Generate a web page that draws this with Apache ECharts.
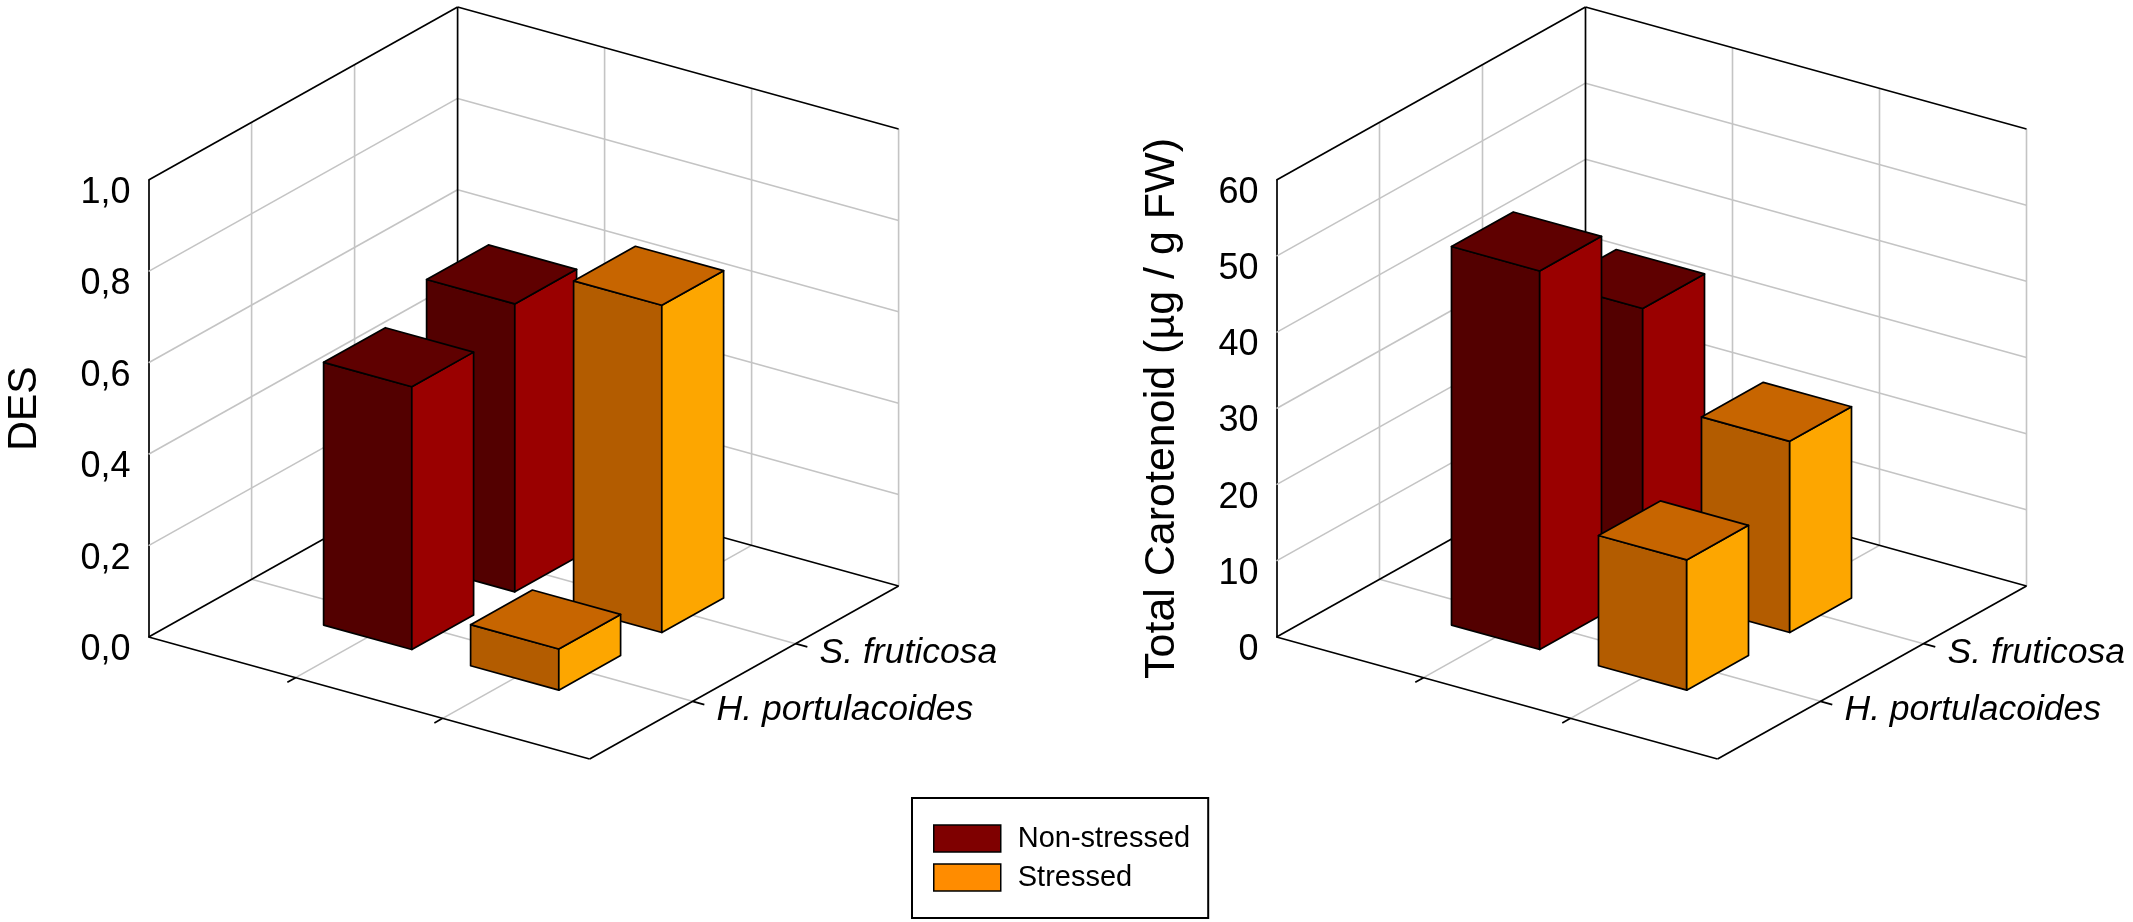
<!DOCTYPE html>
<html>
<head>
<meta charset="utf-8">
<style>html,body{margin:0;padding:0;background:#fff}#c{width:2133px;height:922px}</style>
<script src="https://cdn.jsdelivr.net/npm/echarts@6/dist/echarts.min.js"></script>
</head>
<body>
<div id="c"></div>
<script>
const treatments = ['Non-stressed', 'Stressed'];
const species = ['H. portulacoides', 'S. fruticosa'];
const desNonStressed = [0.575, 0.63];
const desStressed = [0.09, 0.716];
const carNonStressed = [49.7, 37.2];
const carStressed = [17.1, 25.1];
const desTicks = [0, 0.2, 0.4, 0.6, 0.8, 1];
const carTicks = [0, 10, 20, 30, 40, 50, 60];

const FONT = '"Liberation Sans", Arial, sans-serif';
const FACES = [
  { legend: '#7f0000', front: '#530000', top: '#5f0000', side: '#9a0000' },
  { legend: '#ff8c00', front: '#b35c00', top: '#c76500', side: '#fda600' }
];
// axonometric floor: pixel run of one whole axis (0..3 units)
const DEPTH_RUN = [309, -173];
const X_RISE = 122;
const HALF = 0.3;

function projector(api) {
  return function (x, d, z) {
    const p = api.coord([x, z]);
    return [p[0] + d / 3 * DEPTH_RUN[0], p[1] + x / 3 * X_RISE + d / 3 * DEPTH_RUN[1]];
  };
}

function frameItem(ticks) {
  return function (params, api) {
    const P = projector(api);
    const kids = [];
    const line = (a, b, stroke, w) => kids.push({
      type: 'line', z2: stroke === '#000' ? 2 : 1,
      shape: { x1: a[0], y1: a[1], x2: b[0], y2: b[1] },
      style: { stroke: stroke, lineWidth: w, fill: null }
    });
    const GR = '#c4c4c4', zMax = ticks[ticks.length - 1];
    ticks.slice(1).forEach(t => {
      if (t !== zMax) {
        line(P(0, 0, t), P(0, 3, t), GR, 1.6);
        line(P(0, 3, t), P(3, 3, t), GR, 1.6);
      }
    });
    [1, 2].forEach(u => {
      line(P(u, 3, 0), P(u, 3, zMax), GR, 1.6);
      line(P(0, u, 0), P(0, u, zMax), GR, 1.6);
      line(P(u, 0, 0), P(u, 3, 0), GR, 1.6);
      line(P(0, u, 0), P(3, u, 0), GR, 1.6);
      line(P(u, 0, 0), P(u, -0.08, 0), '#000', 1.7);
      line(P(3, u, 0), P(3.08, u, 0), '#000', 1.7);
    });
    line(P(3, 3, 0), P(3, 3, zMax), GR, 1.6);
    line(P(0, 0, zMax), P(0, 3, zMax), '#000', 1.7);
    line(P(0, 3, zMax), P(3, 3, zMax), '#000', 1.7);
    line(P(0, 3, 0), P(0, 3, zMax), '#000', 1.7);
    line(P(0, 0, 0), P(3, 0, 0), '#000', 1.7);
    line(P(3, 0, 0), P(3, 3, 0), '#000', 1.7);
    line(P(0, 0, 0), P(0, 3, 0), '#000', 1.7);
    line(P(0, 3, 0), P(3, 3, 0), '#000', 1.7);
    species.forEach((s, i) => {
      const q = P(3, i + 1, 0);
      kids.push({
        type: 'text', z2: 3, x: q[0] + 24, y: q[1] + 9,
        style: { text: s, font: 'italic 35.5px ' + FONT, fill: '#000', textAlign: 'left', textVerticalAlign: 'middle' }
      });
    });
    return { type: 'group', children: kids };
  };
}

function barItem(colors) {
  return function (params, api) {
    const P = projector(api);
    const x = api.value(0), z = api.value(1), d = api.value(2);
    const x0 = x - HALF, x1 = x + HALF, d0 = d - HALF, d1 = d + HALF;
    const z2 = 10 + (2 - d) * 4 + x;
    const face = (pts, fill) => ({
      type: 'polygon', z2: z2,
      shape: { points: pts },
      style: { fill: fill, stroke: '#000', lineWidth: 1.7, lineJoin: 'round' }
    });
    return {
      type: 'group',
      children: [
        face([P(x0, d0, 0), P(x1, d0, 0), P(x1, d0, z), P(x0, d0, z)], colors.front),
        face([P(x1, d0, 0), P(x1, d1, 0), P(x1, d1, z), P(x1, d0, z)], colors.side),
        face([P(x0, d0, z), P(x1, d0, z), P(x1, d1, z), P(x0, d1, z)], colors.top)
      ]
    };
  };
}

function rows(values, xPos) {
  return values.map((v, i) => [xPos, v, i + 1]);
}

const panels = [
  { left: 148.6, name: 'DES', gap: 103, max: 1, interval: 0.2, ticks: desTicks,
    series: [desNonStressed, desStressed], fmt: v => v.toFixed(1).replace('.', ','), nameSize: 41 },
  { left: 1276.5, name: 'Total Carotenoid (µg / g FW)', gap: 93, max: 60, interval: 10, ticks: carTicks,
    series: [carNonStressed, carStressed], fmt: v => String(v), nameSize: 43 }
];

const series = [];
panels.forEach((p, g) => {
  series.push({
    type: 'custom', xAxisIndex: g, yAxisIndex: g, silent: true,
    renderItem: frameItem(p.ticks), data: [[0, 0]], encode: { x: 0, y: 1 }, z: 1
  });
  treatments.forEach((t, i) => {
    series.push({
      type: 'custom', name: t, xAxisIndex: g, yAxisIndex: g, silent: true,
      itemStyle: { color: FACES[i].legend },
      renderItem: barItem(FACES[i]),
      data: rows(p.series[i], i + 1),
      encode: { x: 0, y: 1 }, z: 2
    });
  });
});

const chart = echarts.init(document.getElementById('c'), null, { renderer: 'canvas' });
chart.setOption({
  animation: false,
  backgroundColor: '#fff',
  grid: panels.map(p => ({ left: p.left, top: 180, width: 441, height: 457 })),
  xAxis: panels.map((p, g) => ({ type: 'value', gridIndex: g, min: 0, max: 3, show: false })),
  yAxis: panels.map((p, g) => ({
    type: 'value', gridIndex: g, min: 0, max: p.max, interval: p.interval,
    name: p.name, nameLocation: 'middle', nameGap: p.gap, nameRotate: 90,
    nameTextStyle: { fontFamily: FONT, fontSize: p.nameSize, color: '#000' },
    axisLine: { show: true, onZero: false, lineStyle: { color: '#000', width: 1.7 } },
    axisTick: { show: false },
    splitLine: { show: false },
    axisLabel: { fontFamily: FONT, fontSize: 36, color: '#000', margin: 18, verticalAlign: 'top', lineHeight: 26, formatter: p.fmt }
  })),
  legend: {
    data: treatments, left: 912, top: 798, orient: 'vertical', icon: 'rect',
    itemWidth: 67, itemHeight: 27, itemGap: 10,
    padding: [26, 18, 26, 21],
    borderColor: '#000', borderWidth: 2,
    selectedMode: false,
    itemStyle: { borderColor: '#000', borderWidth: 1.5 },
    textStyle: { fontFamily: FONT, fontSize: 29, color: '#000', lineHeight: 27, padding: [0, 0, 0, 12] }
  },
  series: series
});
</script>
</body>
</html>
